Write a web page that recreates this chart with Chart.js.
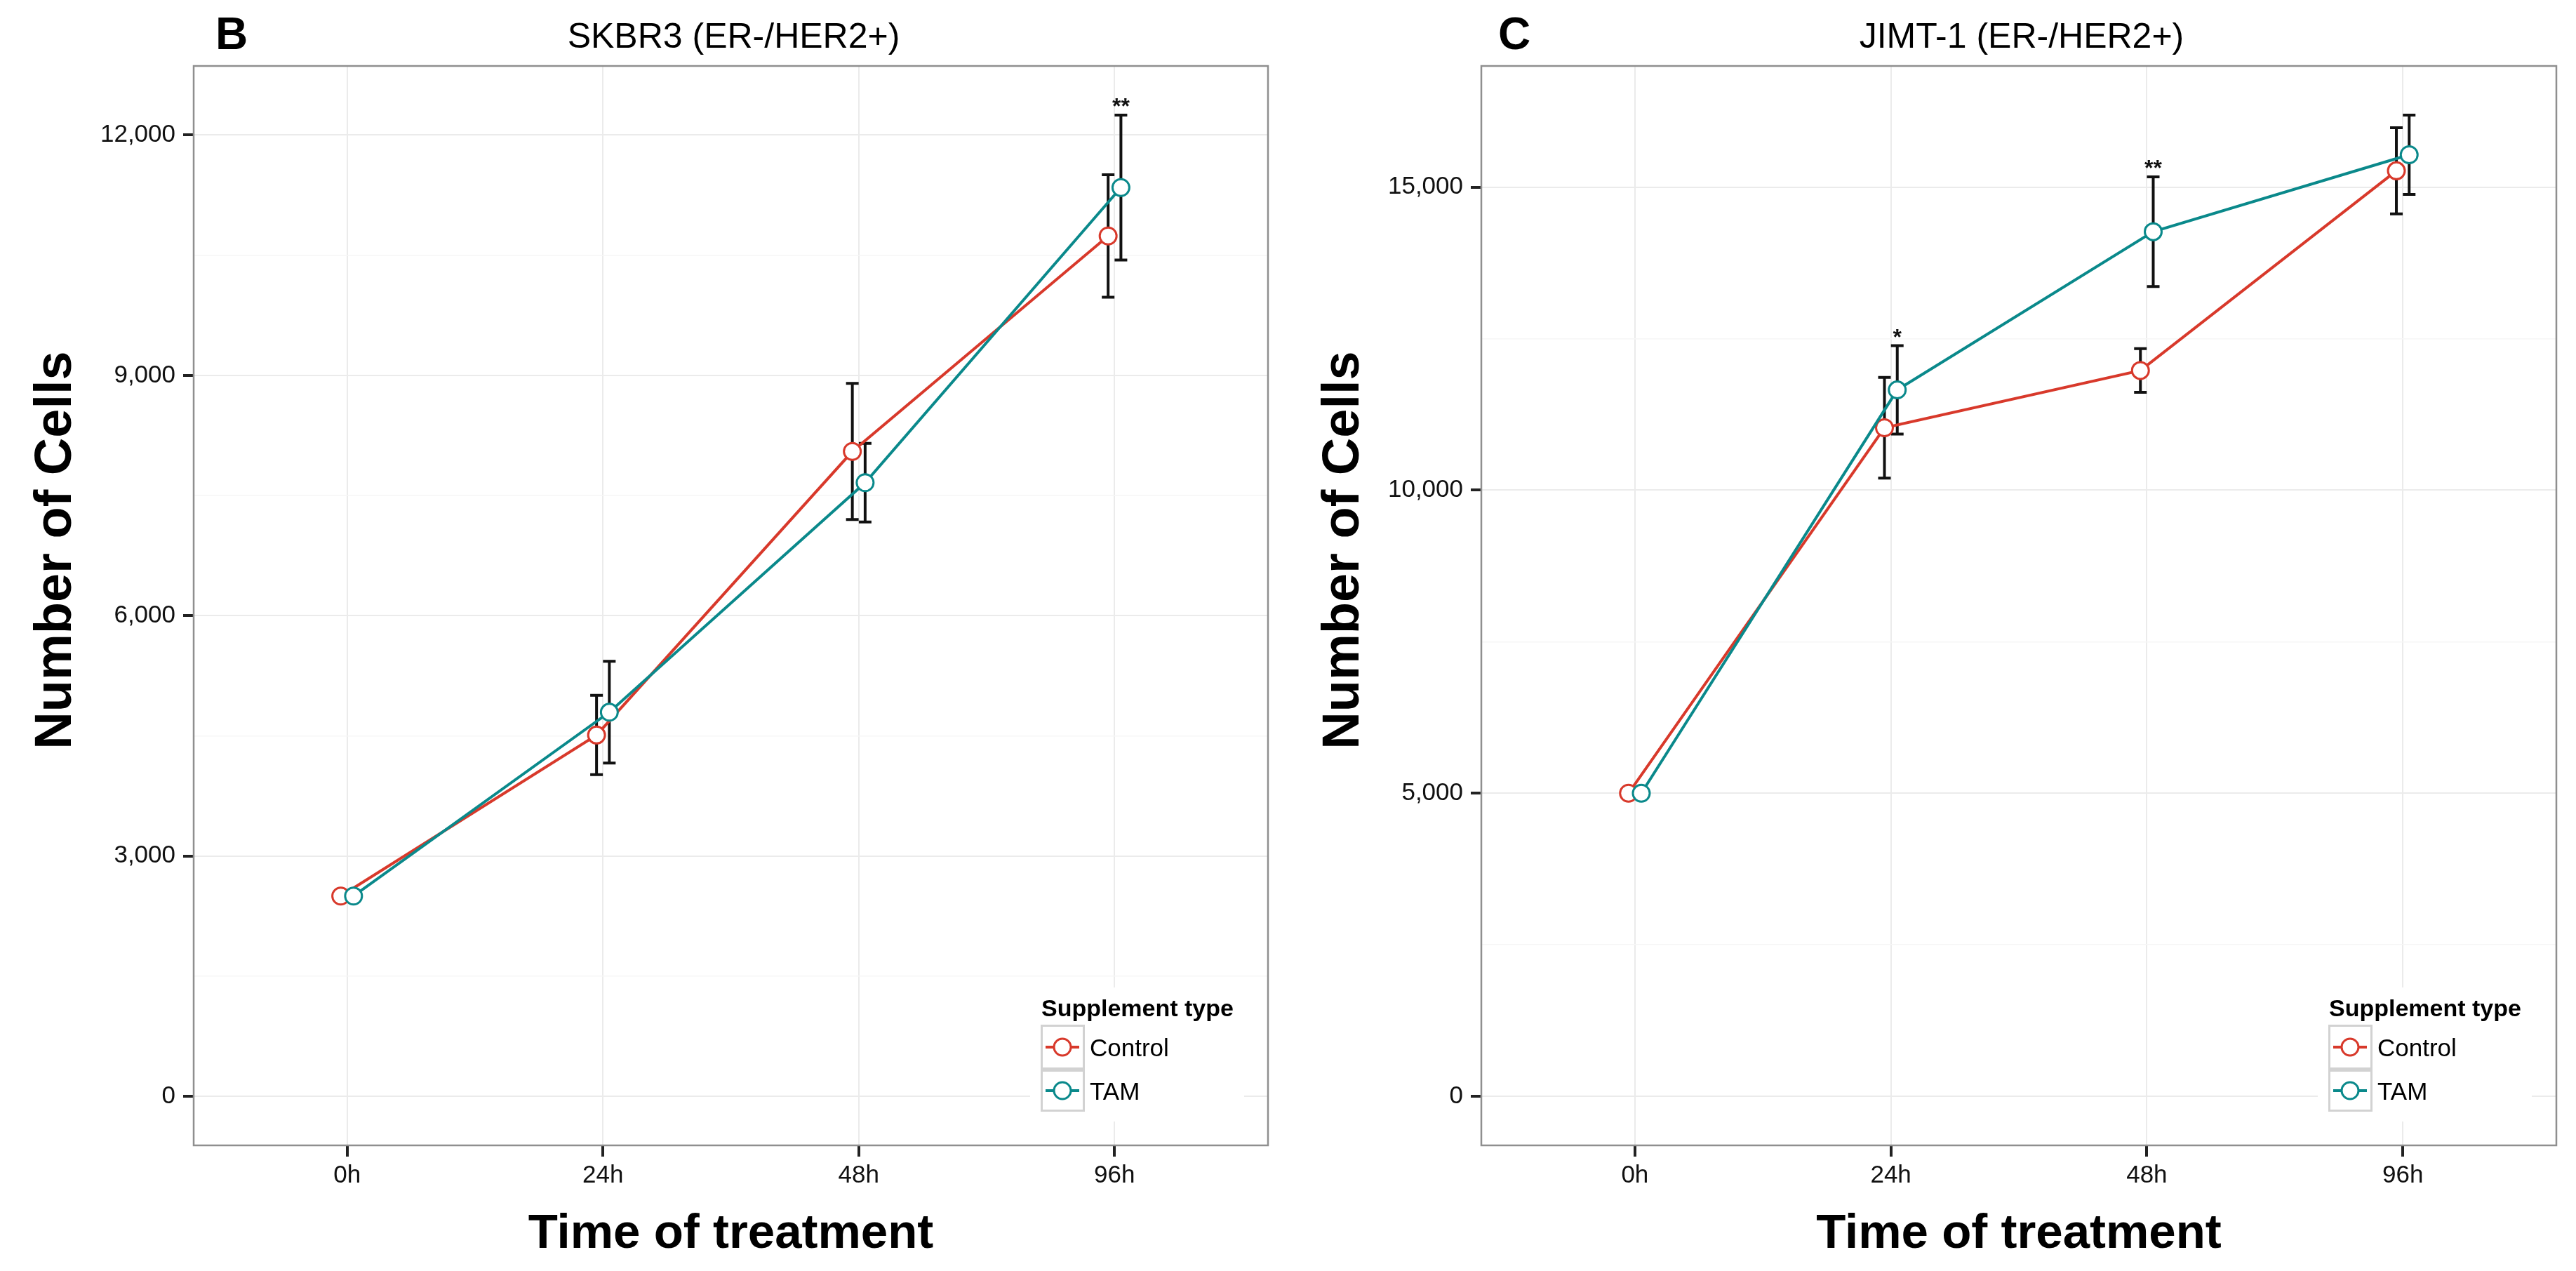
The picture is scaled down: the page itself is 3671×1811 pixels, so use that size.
<!DOCTYPE html>
<html><head><meta charset="utf-8">
<script src="https://cdn.jsdelivr.net/npm/chart.js@4.4.1/dist/chart.umd.min.js"></script>
<style>
html,body{margin:0;padding:0;background:#fff;width:3671px;height:1811px;overflow:hidden}
.panel{position:absolute;top:0;height:1811px}
canvas{display:block}
</style></head><body>
<div class="panel" style="left:0;width:1835px"><canvas id="c1" width="1835" height="1811"></canvas></div>
<div class="panel" style="left:1835px;width:1836px"><canvas id="c2" width="1836" height="1811"></canvas></div>
<script>
// ---- data ----
const timepoints = ['0h', '24h', '48h', '96h'];
const seriesNames = ['Control', 'TAM'];
const seriesColors = ['#D8392B', '#0A898B'];

const skbr3Control    = [2500, 4510, 8050, 10740];
const skbr3ControlErr = [0, 495, 850, 765];
const skbr3Tam        = [2500, 4795, 7660, 11345];
const skbr3TamErr     = [0, 635, 490, 905];
const skbr3Sig        = ['', '', '', '**'];
const skbr3YTicks     = [0, 3000, 6000, 9000, 12000];

const jimtControl     = [5000, 11030, 11975, 15270];
const jimtControlErr  = [0, 830, 360, 710];
const jimtTam         = [5000, 11655, 14265, 15535];
const jimtTamErr      = [0, 730, 905, 655];
const jimtSig         = ['', '*', '**', ''];
const jimtYTicks      = [0, 5000, 10000, 15000];

// ---- style ----
const FAM = "'Liberation Sans', Arial, Helvetica, sans-serif";
Chart.defaults.font.family = FAM;
const DODGE = 0.025;

const decor = {
  id: 'decor',
  beforeDatasetsDraw(chart) {
    const ctx = chart.ctx, xs = chart.scales.x, ys = chart.scales.y;
    ctx.save();
    ctx.strokeStyle = '#111';
    ctx.lineWidth = 4;
    chart.data.datasets.forEach(ds => {
      ds.data.forEach((p, i) => {
        const e = ds.errors[i];
        if (!e) return;
        const x = xs.getPixelForValue(p.x);
        const yt = ys.getPixelForValue(p.y + e);
        const yb = ys.getPixelForValue(p.y - e);
        ctx.beginPath();
        ctx.moveTo(x, yt); ctx.lineTo(x, yb);
        ctx.moveTo(x - 9, yt); ctx.lineTo(x + 9, yt);
        ctx.moveTo(x - 9, yb); ctx.lineTo(x + 9, yb);
        ctx.stroke();
      });
    });
    ctx.restore();
  },
  afterDraw(chart) {
    const o = chart.options.plugins.decor;
    const ctx = chart.ctx, a = chart.chartArea, xs = chart.scales.x, ys = chart.scales.y;
    ctx.save();
    // panel border
    ctx.strokeStyle = '#8f8f8f';
    ctx.lineWidth = 2.5;
    ctx.strokeRect(a.left, a.top, a.right - a.left, a.bottom - a.top);

    // significance marks above TAM error bars
    const tam = chart.data.datasets.find(d => d.label === 'TAM');
    ctx.fillStyle = '#111';
    ctx.font = 'bold 32px ' + FAM;
    ctx.textAlign = 'center';
    ctx.textBaseline = 'alphabetic';
    o.sig.forEach((s, i) => {
      if (!s) return;
      const p = tam.data[i];
      ctx.fillText(s, xs.getPixelForValue(p.x), ys.getPixelForValue(p.y + tam.errors[i]) - 2);
    });

    // panel letter
    ctx.textAlign = 'left';
    ctx.font = 'bold 64px ' + FAM;
    ctx.fillStyle = '#000';
    ctx.fillText(o.letter, o.letterX, 70);
    // title
    ctx.textAlign = 'center';
    ctx.font = '50px ' + FAM;
    ctx.fillText(o.title, (a.left + a.right) / 2 + 4, 68);
    // x title
    ctx.font = 'bold 69px ' + FAM;
    ctx.fillText('Time of treatment', (a.left + a.right) / 2, 1778);
    // y title
    ctx.save();
    ctx.translate(101, 784);
    ctx.rotate(-Math.PI / 2);
    ctx.font = 'bold 74px ' + FAM;
    ctx.fillText('Number of Cells', 0, 0);
    ctx.restore();

    // legend
    ctx.fillStyle = '#fff';
    ctx.fillRect(1468, 1407, 305, 191);
    ctx.fillStyle = '#000';
    ctx.textAlign = 'left';
    ctx.font = 'bold 34px ' + FAM;
    ctx.fillText('Supplement type', 1484, 1448);
    const keyTop = [1460, 1524], keyH = [64, 60];
    seriesNames.forEach((n, k) => {
      const y0 = keyTop[k], h = keyH[k], cy = y0 + h / 2;
      ctx.fillStyle = '#fff';
      ctx.fillRect(1483, y0, 63, h);
      ctx.strokeStyle = '#d2d2d2';
      ctx.lineWidth = 3;
      ctx.strokeRect(1484.5, y0 + 1.5, 60, h - 3);
      ctx.strokeStyle = seriesColors[k];
      ctx.lineWidth = 4;
      ctx.beginPath(); ctx.moveTo(1490, cy); ctx.lineTo(1538, cy); ctx.stroke();
      ctx.fillStyle = '#fff';
      ctx.lineWidth = 3;
      ctx.beginPath(); ctx.arc(1514, cy, 12, 0, Math.PI * 2); ctx.fill(); ctx.stroke();
      ctx.fillStyle = '#000';
      ctx.font = '35px ' + FAM;
      ctx.fillText(n, 1553, cy + 13);
    });
    ctx.restore();
  }
};

function makePanel(id, cfg) {
  const maxTop = Math.max(...cfg.control.map((v, i) => v + cfg.controlErr[i]),
                          ...cfg.tam.map((v, i) => v + cfg.tamErr[i]));
  const yMin = -0.05 * maxTop, yMax = 1.05 * maxTop;
  const step = cfg.yTicks[1] - cfg.yTicks[0];
  const allTicks = [];
  for (let v = cfg.yTicks[0] - step / 2; v <= yMax; v += step / 2) if (v >= yMin) allTicks.push(v);
  const isMajor = v => cfg.yTicks.includes(v);
  const mk = (vals, sign) => vals.map((v, i) => ({ x: i + 1 + sign * DODGE, y: v }));
  const ds = (label, vals, errs, k, sign, order) => ({
    label, data: mk(vals, sign), errors: errs, order,
    borderColor: seriesColors[k], backgroundColor: '#fff',
    borderWidth: 4, pointRadius: 12, pointBorderWidth: 3,
    pointBackgroundColor: '#fff', pointBorderColor: seriesColors[k],
    tension: 0, fill: false
  });
  return new Chart(document.getElementById(id), {
    type: 'line',
    data: { datasets: [
      ds('Control', cfg.control, cfg.controlErr, 0, -1, 1),
      ds('TAM', cfg.tam, cfg.tamErr, 1, 1, 0)
    ] },
    options: {
      responsive: false, animation: false, devicePixelRatio: 1,
      layout: { padding: { top: 94, right: cfg.rightPad, left: 0, bottom: 0 } },
      plugins: {
        legend: { display: false }, tooltip: { enabled: false }, title: { display: false },
        decor: { letter: cfg.letter, letterX: cfg.letterX, title: cfg.title, sig: cfg.sig }
      },
      scales: {
        x: {
          type: 'linear', min: 0.4, max: 4.6,
          afterBuildTicks: s => { s.ticks = timepoints.map((t, i) => ({ value: i + 1 })); },
          afterFit: s => { s.height = 179; },
          ticks: { callback: v => timepoints[Math.round(v) - 1] || '', color: '#111',
                   font: { size: 35 }, padding: 6, autoSkip: false, maxRotation: 0 },
          grid: { color: '#ebebeb', lineWidth: 2, tickLength: 16, tickWidth: 4, tickColor: '#222' },
          border: { display: false }
        },
        y: {
          type: 'linear', min: yMin, max: yMax,
          afterBuildTicks: s => { s.ticks = allTicks.map(v => ({ value: v })); },
          afterFit: s => { s.width = 276; },
          ticks: { callback: v => isMajor(v) ? v.toLocaleString('en-US') : '', color: '#111',
                   font: { size: 35 }, padding: 11, autoSkip: false },
          grid: {
            color: c => isMajor(c.tick.value) ? '#ebebeb' : '#f6f6f6',
            lineWidth: c => isMajor(c.tick.value) ? 2 : 1.5,
            tickLength: 15,
            tickWidth: 4,
            tickColor: c => isMajor(c.tick.value) ? '#222' : 'rgba(0,0,0,0)'
          },
          border: { display: false }
        }
      }
    },
    plugins: [decor]
  });
}

makePanel('c1', {
  letter: 'B', letterX: 307, title: 'SKBR3 (ER-/HER2+)', rightPad: 28,
  control: skbr3Control, controlErr: skbr3ControlErr, tam: skbr3Tam, tamErr: skbr3TamErr,
  sig: skbr3Sig, yTicks: skbr3YTicks
});
makePanel('c2', {
  letter: 'C', letterX: 300, title: 'JIMT-1 (ER-/HER2+)', rightPad: 28,
  control: jimtControl, controlErr: jimtControlErr, tam: jimtTam, tamErr: jimtTamErr,
  sig: jimtSig, yTicks: jimtYTicks
});
</script>
</body></html>
